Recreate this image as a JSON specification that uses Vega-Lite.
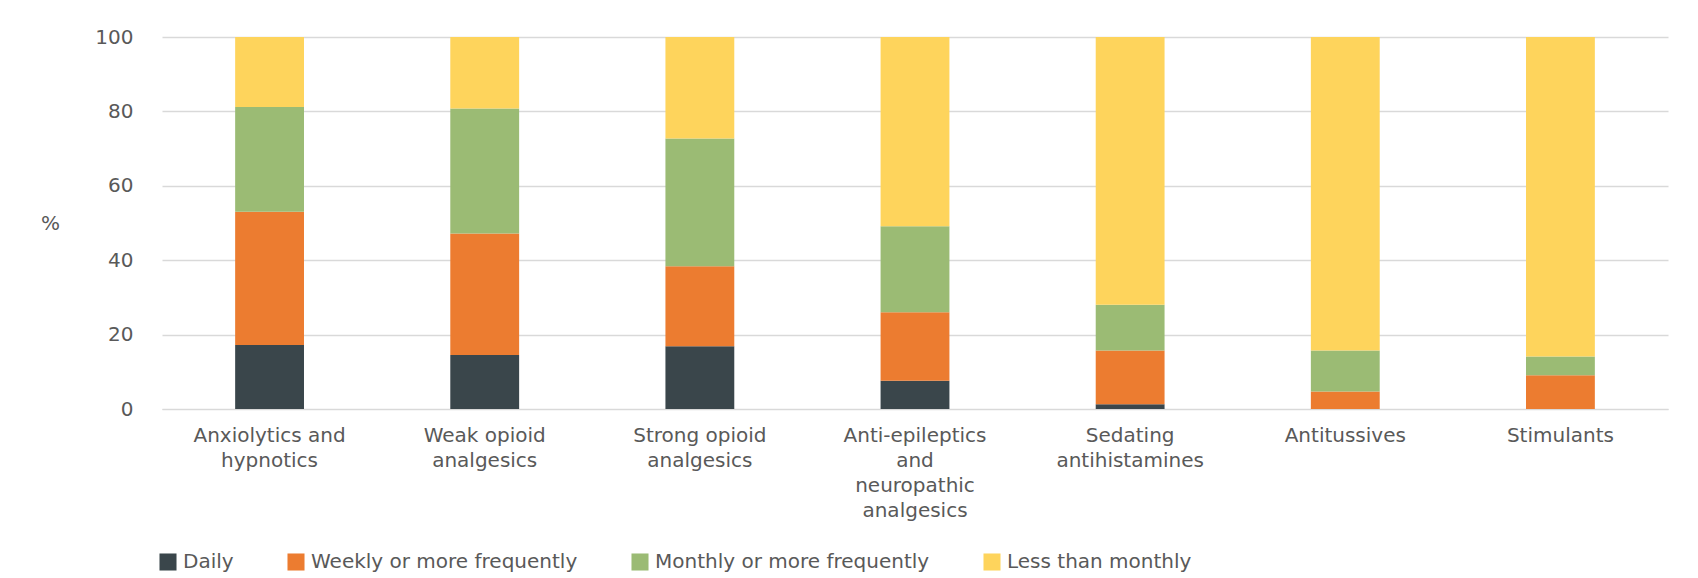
{
  "$schema": "https://vega.github.io/schema/vega-lite/v6.json",
  "autosize": {"type": "none"},
  "width": 1506,
  "height": 372,
  "padding": {"left": 162, "top": 37, "right": 30, "bottom": 169},
  "background": "white",
  "data": {
    "values": [
      {"drug": "Anxiolytics and hypnotics", "freq": "Daily", "order": 1, "pct": 17.2},
      {"drug": "Anxiolytics and hypnotics", "freq": "Weekly or more frequently", "order": 2, "pct": 35.8},
      {"drug": "Anxiolytics and hypnotics", "freq": "Monthly or more frequently", "order": 3, "pct": 28.2},
      {"drug": "Anxiolytics and hypnotics", "freq": "Less than monthly", "order": 4, "pct": 18.8},
      {"drug": "Weak opioid analgesics", "freq": "Daily", "order": 1, "pct": 14.5},
      {"drug": "Weak opioid analgesics", "freq": "Weekly or more frequently", "order": 2, "pct": 32.7},
      {"drug": "Weak opioid analgesics", "freq": "Monthly or more frequently", "order": 3, "pct": 33.6},
      {"drug": "Weak opioid analgesics", "freq": "Less than monthly", "order": 4, "pct": 19.2},
      {"drug": "Strong opioid analgesics", "freq": "Daily", "order": 1, "pct": 16.9},
      {"drug": "Strong opioid analgesics", "freq": "Weekly or more frequently", "order": 2, "pct": 21.5},
      {"drug": "Strong opioid analgesics", "freq": "Monthly or more frequently", "order": 3, "pct": 34.3},
      {"drug": "Strong opioid analgesics", "freq": "Less than monthly", "order": 4, "pct": 27.3},
      {"drug": "Anti-epileptics and neuropathic analgesics", "freq": "Daily", "order": 1, "pct": 7.6},
      {"drug": "Anti-epileptics and neuropathic analgesics", "freq": "Weekly or more frequently", "order": 2, "pct": 18.4},
      {"drug": "Anti-epileptics and neuropathic analgesics", "freq": "Monthly or more frequently", "order": 3, "pct": 23.1},
      {"drug": "Anti-epileptics and neuropathic analgesics", "freq": "Less than monthly", "order": 4, "pct": 50.9},
      {"drug": "Sedating antihistamines", "freq": "Daily", "order": 1, "pct": 1.3},
      {"drug": "Sedating antihistamines", "freq": "Weekly or more frequently", "order": 2, "pct": 14.4},
      {"drug": "Sedating antihistamines", "freq": "Monthly or more frequently", "order": 3, "pct": 12.3},
      {"drug": "Sedating antihistamines", "freq": "Less than monthly", "order": 4, "pct": 72.0},
      {"drug": "Antitussives", "freq": "Daily", "order": 1, "pct": 0},
      {"drug": "Antitussives", "freq": "Weekly or more frequently", "order": 2, "pct": 4.7},
      {"drug": "Antitussives", "freq": "Monthly or more frequently", "order": 3, "pct": 11.0},
      {"drug": "Antitussives", "freq": "Less than monthly", "order": 4, "pct": 84.3},
      {"drug": "Stimulants", "freq": "Daily", "order": 1, "pct": 0},
      {"drug": "Stimulants", "freq": "Weekly or more frequently", "order": 2, "pct": 9.1},
      {"drug": "Stimulants", "freq": "Monthly or more frequently", "order": 3, "pct": 5.0},
      {"drug": "Stimulants", "freq": "Less than monthly", "order": 4, "pct": 85.9}
    ]
  },
  "mark": {"type": "bar"},
  "encoding": {
    "x": {
      "field": "drug",
      "type": "nominal",
      "sort": null,
      "scale": {"paddingInner": 0.68, "paddingOuter": 0.34},
      "axis": {
        "title": null,
        "labelAngle": 0,
        "ticks": false,
        "domain": true,
        "domainColor": "#d9d9d9",
        "labelPadding": 16,
        "labelFont": "DejaVu Sans",
        "labelFontSize": 20,
        "labelColor": "#595959",
        "labelLineHeight": 25,
        "labelBaseline": "top",
        "labelExpr": "datum.value == 'Anxiolytics and hypnotics' ? ['Anxiolytics and', 'hypnotics'] : datum.value == 'Weak opioid analgesics' ? ['Weak opioid', 'analgesics'] : datum.value == 'Strong opioid analgesics' ? ['Strong opioid', 'analgesics'] : datum.value == 'Anti-epileptics and neuropathic analgesics' ? ['Anti-epileptics', 'and', 'neuropathic', 'analgesics'] : datum.value == 'Sedating antihistamines' ? ['Sedating', 'antihistamines'] : datum.value"
      }
    },
    "y": {
      "field": "pct",
      "type": "quantitative",
      "stack": "zero",
      "scale": {"domain": [0, 100]},
      "axis": {
        "title": "%",
        "titleAngle": 0,
        "titleAlign": "center",
        "titleBaseline": "middle",
        "titleX": -112,
        "titleY": 186,
        "titleFont": "DejaVu Sans",
        "titleFontSize": 20,
        "titleFontWeight": "normal",
        "titleColor": "#595959",
        "values": [0, 20, 40, 60, 80, 100],
        "ticks": false,
        "domain": false,
        "grid": true,
        "gridColor": "#d9d9d9",
        "gridWidth": 1.5,
        "labelPadding": 29,
        "labelFont": "DejaVu Sans",
        "labelFontSize": 20,
        "labelColor": "#595959"
      }
    },
    "color": {
      "field": "freq",
      "type": "nominal",
      "sort": ["Daily", "Weekly or more frequently", "Monthly or more frequently", "Less than monthly"],
      "scale": {
        "domain": ["Daily", "Weekly or more frequently", "Monthly or more frequently", "Less than monthly"],
        "range": ["#3a464b", "#ec7c30", "#9bbb74", "#fed45c"]
      },
      "legend": {
        "title": null,
        "orient": "none",
        "direction": "horizontal",
        "legendX": -4,
        "legendY": 515,
        "symbolType": "square",
        "symbolSize": 290,
        "symbolStrokeWidth": 0,
        "symbolOpacity": 1,
        "labelFont": "DejaVu Sans",
        "labelFontSize": 20,
        "labelColor": "#595959",
        "labelOffset": 5,
        "columnPadding": 52,
        "labelLimit": 400
      }
    },
    "order": {"field": "order", "type": "quantitative"}
  },
  "config": {"view": {"stroke": null}}
}
